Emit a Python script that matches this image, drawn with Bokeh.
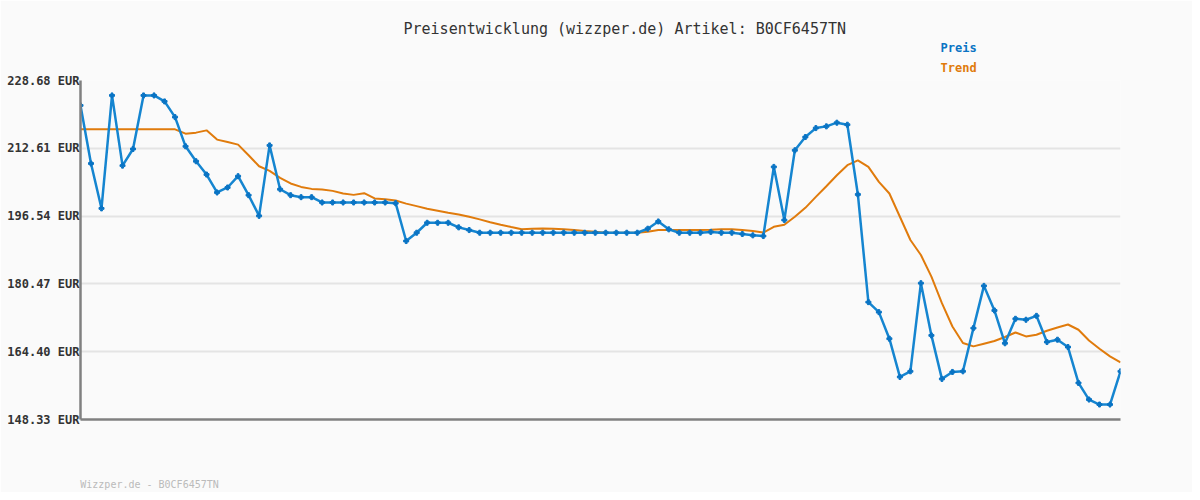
from bokeh.plotting import figure
from bokeh.models import Range1d, FixedTicker, CustomJSTickFormatter, Title
from bokeh.embed import file_html
from bokeh.resources import INLINE

title_text = "Preisentwicklung (wizzper.de) Artikel: B0CF6457TN"
footer_text = "Wizzper.de - B0CF6457TN"
series_names = ["Preis", "Trend"]
y_ticks = [148.33, 164.40, 180.47, 196.54, 212.61, 228.68]

preis = [222.77, 209.0, 198.36, 225.14, 208.5, 212.45, 225.14, 225.14, 223.72, 220.0,
         213.08, 209.54, 206.39, 202.14, 203.32, 206.0, 201.5, 196.6, 213.3, 202.9,
         201.5, 201.03, 201.03, 199.77, 199.77, 199.77, 199.77, 199.77, 199.77, 199.77,
         199.6, 190.63, 192.6, 194.96, 194.96, 194.96, 193.87, 193.23, 192.6, 192.6,
         192.6, 192.6, 192.6, 192.6, 192.6, 192.6, 192.6, 192.6, 192.6, 192.6,
         192.6, 192.6, 192.6, 192.6, 193.55, 195.27, 193.4, 192.6, 192.6, 192.6,
         192.8, 192.6, 192.6, 192.29, 191.98, 191.81, 208.2, 195.6, 212.14, 215.28,
         217.4, 217.81, 218.68, 218.2, 201.67, 176.15, 173.78, 167.48, 158.42, 159.75,
         180.64, 168.26, 157.95, 159.6, 159.75, 169.99, 180.0, 174.17, 166.4, 172.2,
         171.97, 172.9, 166.69, 167.24, 165.5, 157.0, 153.06, 151.88, 151.88, 159.75]

trend = [217.1, 217.1, 217.1, 217.1, 217.1, 217.1, 217.1, 217.1, 217.1, 217.1,
         216.08, 216.32, 216.86, 214.67, 214.1, 213.48, 210.96, 208.36, 207.25, 205.59,
         204.27, 203.46, 202.99, 202.85, 202.52, 201.9, 201.57, 201.97, 200.72, 200.56,
         200.25, 199.5, 198.9, 198.27, 197.8, 197.32, 196.94, 196.37, 195.76, 195.1,
         194.5, 193.94, 193.4, 193.54, 193.63, 193.54, 193.4, 193.23, 193.0, 192.83,
         192.6, 192.6, 192.6, 192.6, 192.83, 193.23, 193.23, 193.23, 193.23, 193.23,
         193.3, 193.4, 193.4, 193.23, 193.0, 192.64, 194.0, 194.5, 196.38, 198.5,
         201.1, 203.63, 206.23, 208.6, 209.77, 208.2, 204.65, 201.9, 196.38, 190.87,
         187.32, 182.2, 175.9, 170.38, 166.46, 165.66, 166.3, 166.93, 167.88, 168.96,
         168.02, 168.42, 169.37, 170.15, 170.85, 169.6, 167.07, 165.11, 163.29, 161.87]

x = list(range(len(preis)))

BG = "#fafafa"
BLUE = "#1585d0"
BLUE_DARK = "#0a74c4"
ORANGE = "#e07b0c"
MONO = "DejaVu Sans Mono"

p = figure(width=1192, height=492, output_backend="svg", toolbar_location=None, title=None,
           x_range=Range1d(0, len(preis) - 1), y_range=Range1d(y_ticks[0], y_ticks[-1]),
           min_border_left=80, min_border_right=72, min_border_top=80, min_border_bottom=72,
           background_fill_color=BG, border_fill_color=BG, outline_line_color=None)

p.xgrid.visible = False
p.ygrid.grid_line_color = "#e4e4e4"
p.ygrid.grid_line_width = 2

p.yaxis.ticker = FixedTicker(ticks=y_ticks)
p.yaxis.formatter = CustomJSTickFormatter(code="return tick.toFixed(2) + ' EUR';")
p.yaxis.major_tick_out = 0
p.yaxis.major_tick_in = 0
p.yaxis.minor_tick_line_color = None
p.yaxis.major_label_standoff = 1
p.yaxis.major_label_text_font = MONO
p.yaxis.major_label_text_font_style = "bold"
p.yaxis.major_label_text_font_size = "12px"
p.yaxis.major_label_text_color = "#333333"
p.yaxis.axis_line_color = "#808080"
p.yaxis.axis_line_width = 2.5

# footer drawn as the single tick label of the bottom axis
p.xaxis.ticker = FixedTicker(ticks=[6.57])
p.xaxis.major_label_overrides = {6.57: footer_text}
p.xaxis.major_tick_line_color = None
p.xaxis.minor_tick_line_color = None
p.xaxis.major_tick_out = 0
p.xaxis.major_tick_in = 0
p.xaxis.major_label_standoff = 59
p.xaxis.major_label_text_font = MONO
p.xaxis.major_label_text_font_size = "10px"
p.xaxis.major_label_text_color = "#bbbbbb"
p.xaxis.axis_line_color = "#808080"
p.xaxis.axis_line_width = 2.5

p.line(x, trend, line_color=ORANGE, line_width=2)
p.line(x, preis, line_color=BLUE, line_width=2.5)
p.scatter(x, preis, marker="plus", size=5, color=BLUE_DARK)

# stacked from the frame outward: Trend, Preis, title
p.add_layout(Title(text=series_names[1], align="left", offset=860, standoff=12,
                   text_font=MONO, text_font_size="12px", text_font_style="bold",
                   text_color=ORANGE), "above")
p.add_layout(Title(text=series_names[0], align="left", offset=860, standoff=-4,
                   text_font=MONO, text_font_size="12px", text_font_style="bold",
                   text_color=BLUE_DARK), "above")
p.add_layout(Title(text=title_text, align="left", offset=323, standoff=6,
                   text_font=MONO, text_font_size="15px", text_font_style="normal",
                   text_color="#333333"), "above")

open("out.html", "w").write(file_html(p, INLINE))
